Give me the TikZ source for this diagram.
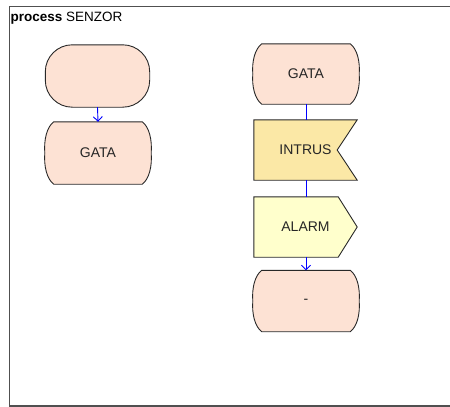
\documentclass[tikz,border=0pt]{standalone}
\usepackage{fontspec}
\setmainfont{Liberation Sans}
\usetikzlibrary{arrows.meta,backgrounds,calc}

\definecolor{statefill}{RGB}{253,226,212}
\definecolor{inputfill}{RGB}{251,232,166}
\definecolor{outputfill}{RGB}{255,255,204}
\definecolor{edge}{RGB}{40,40,40}
\definecolor{framegray}{RGB}{80,80,80}
\definecolor{flowblue}{RGB}{0,0,255}

\tikzset{
  box/.style={rectangle, draw=none, inner sep=0pt, font=\fontsize{14}{16}\selectfont, text=black!85},
  outline/.style={draw=edge, line width=0.9pt},
  flow/.style={draw=flowblue, line width=0.9pt},
  flowarrow/.style={flow, -{Straight Barb[length=4.5pt,width=9pt]}},
}

% SDL state symbol: straight top and bottom, outward-bulging sides
\newcommand\sdlstate[1]{%
  \path[outline, fill=statefill] let \p1=(#1.north west), \p2=(#1.south east),
    \n1={0.5*(\y1+\y2)} in
    (\x1+9pt,\y1) -- (\x2-9pt,\y1)
    .. controls (\x2-2pt,\y1-5pt) and (\x2+1pt,\y1-18pt) .. (\x2,\n1)
    .. controls (\x2+1pt,\y2+18pt) and (\x2-2pt,\y2+5pt) .. (\x2-9pt,\y2)
    -- (\x1+9pt,\y2)
    .. controls (\x1+2pt,\y2+5pt) and (\x1-1pt,\y2+18pt) .. (\x1,\n1)
    .. controls (\x1-1pt,\y1-18pt) and (\x1+2pt,\y1-5pt) .. cycle;}

% SDL input symbol: notch cut into the right side
\newcommand\sdlinput[1]{%
  \path[outline, fill=inputfill] let \p1=(#1.north west), \p2=(#1.south east),
    \n1={0.5*(\y1+\y2)} in
    (\x1,\y1) -- (\x2,\y1) -- (\x2-20pt,\n1) -- (\x2,\y2) -- (\x1,\y2) -- cycle;}

% SDL output symbol: pointed right side
\newcommand\sdloutput[1]{%
  \path[outline, fill=outputfill] let \p1=(#1.north west), \p2=(#1.south east),
    \n1={0.5*(\y1+\y2)} in
    (\x1,\y1) -- (\x2-19pt,\y1) -- (\x2,\n1) -- (\x2-19pt,\y2) -- (\x1,\y2) -- cycle;}

\begin{document}
\begin{tikzpicture}[x=1pt,y=-1pt]
  \useasboundingbox (0,0) rectangle (450,407);

  % frame of the process diagram
  \draw[framegray, line width=1.6pt] (450,6.5) -- (9.5,6.5) -- (9.5,406) -- (450,406);
  \node[anchor=base west, inner sep=0pt, font=\fontsize{13.5}{15}\selectfont] (title) at (10.5,21)
    {\textbf{process} SENZOR};

  % left branch: start and state
  \node[box, minimum width=104pt, minimum height=62pt] (start) at (97.5,76) {};
  \node[box, minimum width=106pt, minimum height=62pt] (gataA) at (98,153) {GATA};

  % right branch: state, input, output, next state
  \node[box, minimum width=106pt, minimum height=60pt] (gataB) at (306,74) {GATA};
  \node[box, minimum width=103pt, minimum height=60pt] (intrus) at (305.5,150) {INTRUS};
  \node[box, minimum width=103pt, minimum height=60pt] (alarm) at (305.5,227) {ALARM};
  \node[box, minimum width=106pt, minimum height=61pt] (dash) at (306,301) {-};

  \begin{pgfonlayer}{background}
    \path[outline, fill=statefill, rounded corners=27pt]
      (start.north west) rectangle (start.south east);
    \sdlstate{gataA}
    \sdlstate{gataB}
    \sdlinput{intrus}
    \sdloutput{alarm}
    \sdlstate{dash}
  \end{pgfonlayer}

  % connectors
  \draw[flowarrow] (start.south) -- (gataA.north);
  \draw[flow] (gataB.south) -- (gataB.south |- intrus.north);
  \draw[flow] (gataB.south |- intrus.south) -- (gataB.south |- alarm.north);
  \draw[flowarrow] (dash.north |- alarm.south) -- (dash.north);
\end{tikzpicture}
\end{document}
